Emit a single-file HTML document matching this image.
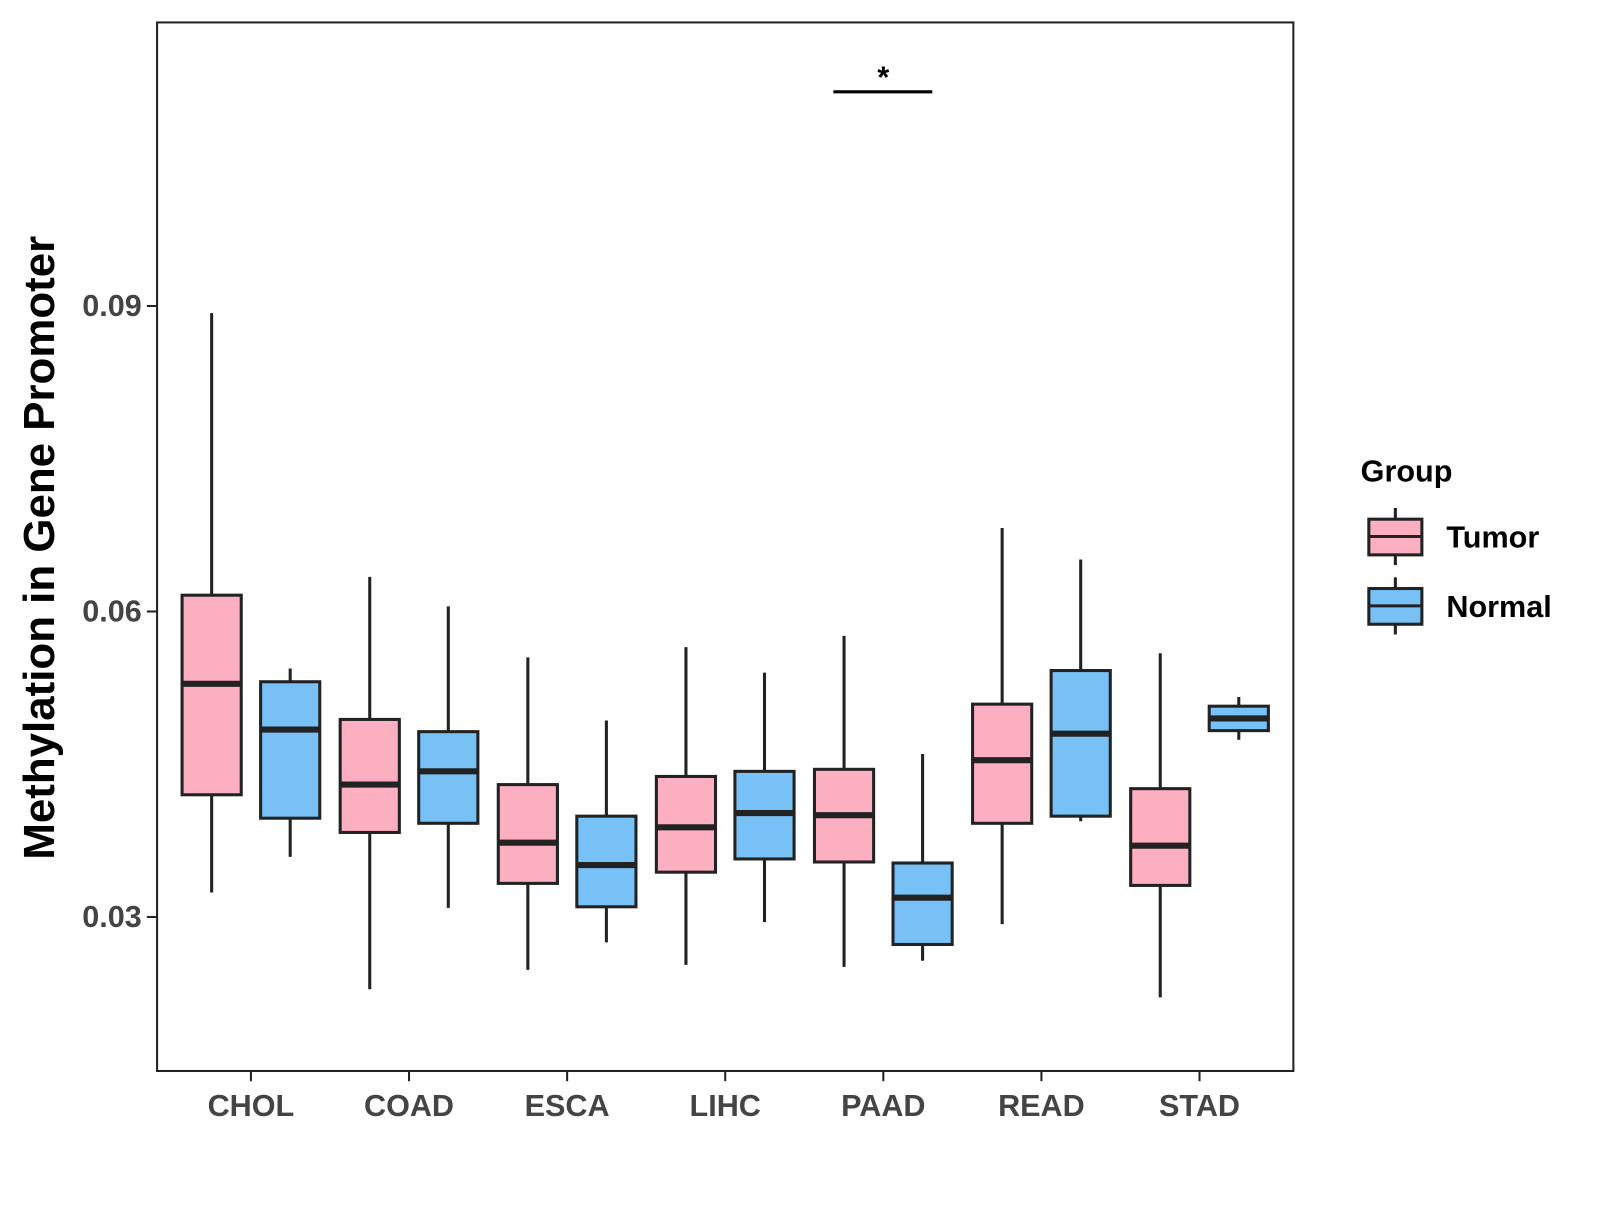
<!DOCTYPE html>
<html><head><meta charset="utf-8"><style>
body{margin:0;background:#fff;}
svg text{font-family:"Liberation Sans",Arial,sans-serif;font-weight:bold;}
</style></head><body>
<svg id="chart" width="1600" height="1200" viewBox="0 0 1600 1200" xmlns="http://www.w3.org/2000/svg">
<g transform="scale(1.02)">
<rect x="154" y="22" width="1114" height="1028" fill="#fff" stroke="#222" stroke-width="2"/>
<g id="boxes"></g>
<g id="axes"></g>
<g>
<line x1="817" y1="90" x2="914" y2="90" stroke="#000" stroke-width="3"/>
<text x="866" y="86" font-size="30" text-anchor="middle" fill="#000">*</text>
</g>
<text transform="translate(53,537) rotate(-90)" font-size="43" text-anchor="middle" fill="#000">Methylation in Gene Promoter</text>
<g>
<text x="1334" y="472" font-size="30" fill="#000">Group</text>
<g>
<line x1="1368" y1="498" x2="1368" y2="554" stroke="#222" stroke-width="3"/>
<rect x="1342" y="509" width="52" height="35" fill="#FBAFC0" stroke="#222" stroke-width="3"/>
<line x1="1342" y1="526" x2="1394" y2="526" stroke="#222" stroke-width="3"/>
<text x="1418" y="537" font-size="30" fill="#000">Tumor</text>
</g>
<g>
<line x1="1368" y1="566" x2="1368" y2="622" stroke="#222" stroke-width="3"/>
<rect x="1342" y="577" width="52" height="35" fill="#77C1F7" stroke="#222" stroke-width="3"/>
<line x1="1342" y1="594" x2="1394" y2="594" stroke="#222" stroke-width="3"/>
<text x="1418" y="605" font-size="30" fill="#000">Normal</text>
</g>
</g>
</g>
</svg>
<script>
const categories=["CHOL","COAD","ESCA","LIHC","PAAD","READ","STAD"];
// [whiskerLow, q1, median, q3, whiskerHigh]
const tumorStats=[
[0.0324,0.0420,0.0529,0.0616,0.0893],
[0.0229,0.0383,0.0430,0.0494,0.0634],
[0.0248,0.0333,0.0373,0.0430,0.0555],
[0.0253,0.0344,0.0388,0.0438,0.0565],
[0.0251,0.0354,0.0400,0.0445,0.0576],
[0.0293,0.0392,0.0454,0.0509,0.0682],
[0.0221,0.0331,0.0370,0.0426,0.0559]];
const normalStats=[
[0.0359,0.0397,0.0484,0.0531,0.0544],
[0.0309,0.0392,0.0443,0.0482,0.0605],
[0.0275,0.0310,0.0351,0.0399,0.0493],
[0.0295,0.0357,0.0402,0.0443,0.0540],
[0.0257,0.0273,0.0319,0.0353,0.0460],
[0.0394,0.0399,0.0480,0.0542,0.0651],
[0.0474,0.0483,0.0495,0.0507,0.0516]];
const yTicks=[0.03,0.06,0.09];
const yTickLabels=["0.03","0.06","0.09"];

const NS="http://www.w3.org/2000/svg";
const yScale=v=>899-(v-0.03)/0.03*299.5;
const xScale=i=>246+i*155;
function mk(tag,attrs,parent){const e=document.createElementNS(NS,tag);for(const k in attrs)e.setAttribute(k,attrs[k]);parent.appendChild(e);return e;}
const boxes=document.getElementById('boxes'),axes=document.getElementById('axes');
function drawBox(s,cx,fill,name){
  const g=mk('g',{},boxes);
  
  
  const w=58;
  mk('line',{x1:cx,x2:cx,y1:yScale(s[4]),y2:yScale(s[0]),stroke:'#222','stroke-width':3},g);
  mk('rect',{x:cx-w/2,y:yScale(s[3]),width:w,height:yScale(s[1])-yScale(s[3]),fill:fill,stroke:'#222','stroke-width':3},g);
  mk('line',{x1:cx-w/2,x2:cx+w/2,y1:yScale(s[2]),y2:yScale(s[2]),stroke:'#222','stroke-width':6},g);
}
categories.forEach((c,i)=>{
  drawBox(tumorStats[i],xScale(i)-38.5,'#FBAFC0','box-'+c.toLowerCase()+'-tumor');
  drawBox(normalStats[i],xScale(i)+38.5,'#77C1F7','box-'+c.toLowerCase()+'-normal');
  const t=mk('line',{x1:xScale(i),x2:xScale(i),y1:1050,y2:1060,stroke:'#222','stroke-width':2},axes);
  
  
  const l=mk('text',{x:xScale(i),y:1094,'font-size':30,'text-anchor':'middle',fill:'#444'},axes);
  
  
  l.textContent=c;
});
yTicks.forEach((v,i)=>{
  const t=mk('line',{x1:144,x2:154,y1:yScale(v),y2:yScale(v),stroke:'#222','stroke-width':2},axes);
  
  
  const l=mk('text',{x:139,y:yScale(v)+10,'font-size':30,'text-anchor':'end',fill:'#444'},axes);
  
  
  l.textContent=yTickLabels[i];
});
</script>
</body></html>
